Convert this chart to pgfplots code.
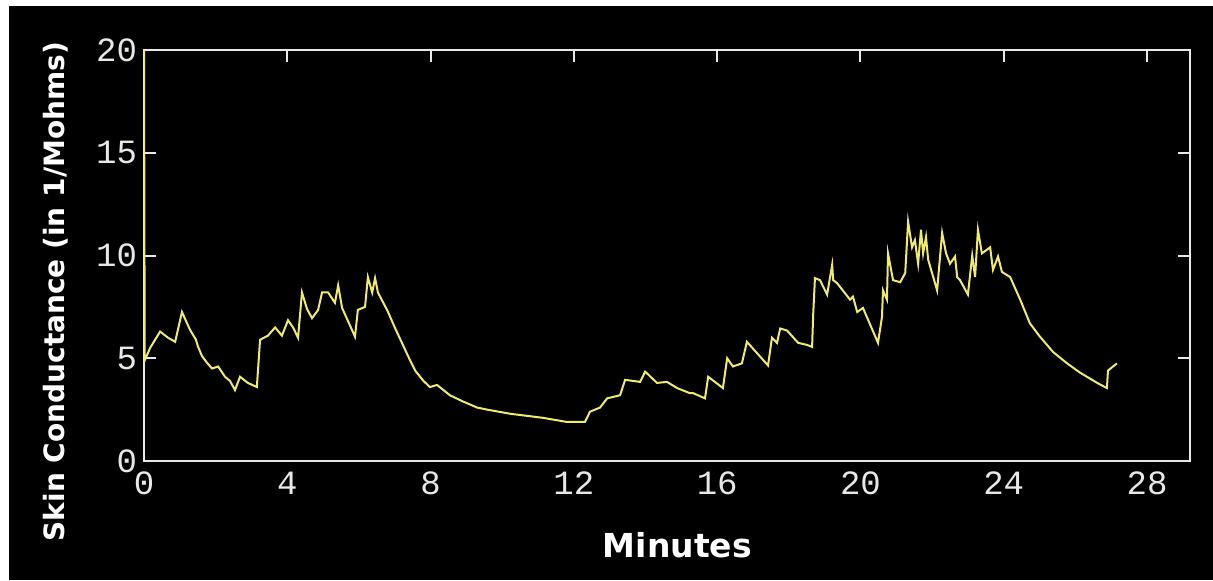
\documentclass[border=0pt]{standalone}
\usepackage{pgfplots}
\pgfplotsset{compat=1.18}
\usepackage{fontspec}
\setmainfont{DejaVu Sans}
\newfontfamily\tickfont{Liberation Mono}
\definecolor{trace}{RGB}{240,236,105}
\definecolor{frame}{RGB}{232,232,232}
\begin{document}
\begin{tikzpicture}
\useasboundingbox (0,0) rectangle (606.5pt,290pt);
\fill[white] (0,0) rectangle (606.5pt,290pt);
\fill[black] (4.5pt,0) rectangle (606.5pt,287pt);
\begin{axis}[
  at={(72pt,59.5pt)}, anchor=south west,
  scale only axis,
  width=523pt, height=205.5pt,
  xmin=0, xmax=29.2,
  ymin=0, ymax=20,
  xtick={0,4,...,28},
  ytick={0,5,...,20},
  xtick pos=upper, xticklabel pos=lower,
  ytick pos=both, yticklabel pos=left,
  tick align=inside,
  major tick length=6pt,
  axis line style={frame, line width=1pt},
  every tick/.style={frame, line width=1pt},
  /pgf/number format/assume math mode=true,
  ticklabel style={text=frame, font=\tickfont\fontsize{17}{17}\selectfont},
  xticklabel style={yshift=-2pt},
  xlabel={Minutes},
  ylabel={Skin Conductance (in 1/Mohms)},
  every axis x label/.style={at={(axis description cs:0.51,-0.204)}, anchor=center,
    text=white, font=\bfseries\fontsize{16.5}{16.5}\selectfont},
  every axis y label/.style={at={(axis description cs:-0.0841,0.412)}, anchor=center, rotate=90,
    text=white, font=\bfseries\fontsize{14}{14}\selectfont},
]
\addplot[trace, line width=1pt] coordinates {
(0,20) (0.02,4.9) (0.17,5.5) (0.45,6.3) (0.67,6.0) (0.87,5.8) (1.06,7.25) (1.28,6.4)
(1.45,5.9) (1.50,5.6) (1.62,5.1) (1.75,4.8) (1.90,4.5) (2.07,4.6) (2.26,4.1) (2.40,3.9)
(2.54,3.45) (2.68,4.1) (2.90,3.8) (3.15,3.6)
(3.24,5.9) (3.46,6.1) (3.66,6.5) (3.85,6.1) (4.02,6.85) (4.16,6.5) (4.30,6.0) (4.41,8.2)
(4.55,7.4) (4.69,6.95) (4.86,7.35) (4.97,8.2) (5.14,8.2) (5.33,7.7) (5.42,8.55) (5.53,7.45)
(5.89,6.05) (5.97,7.35) (6.17,7.5) (6.25,8.95) (6.37,8.2) (6.45,8.9) (6.53,8.2)
(6.80,7.3) (7.00,6.5) (7.20,5.75) (7.40,5.0) (7.57,4.4) (7.80,3.9) (7.98,3.6) (8.18,3.7)
(8.54,3.2) (8.90,2.9) (9.30,2.6) (9.58,2.5) (10.22,2.3)
(11.14,2.1) (11.81,1.9) (12.31,1.9) (12.45,2.4) (12.73,2.6) (12.93,3.05) (13.29,3.2)
(13.43,3.95) (13.85,3.85) (13.99,4.35) (14.32,3.8) (14.60,3.85) (14.88,3.55) (15.24,3.3)
(15.33,3.3) (15.66,3.05) (15.75,4.1) (16.16,3.55) (16.28,5.0) (16.44,4.6) (16.69,4.75)
(16.83,5.8) (17.42,4.65) (17.53,6.0) (17.67,5.75) (17.76,6.45) (17.95,6.35) (18.26,5.75)
(18.51,5.65) (18.65,5.55) (18.68,7.1) (18.73,8.9) (18.87,8.8) (19.07,8.1) (19.21,9.55)
(19.24,8.8) (19.35,8.65) (19.71,7.85) (19.79,8.0) (19.91,7.25) (20.07,7.45) (20.49,5.75)
(20.60,7.0) (20.63,8.3) (20.74,7.85) (20.77,10.1) (20.91,8.8) (21.11,8.7) (21.25,9.15)
(21.33,11.65) (21.44,10.4) (21.52,10.75) (21.61,9.6) (21.69,11.25) (21.75,10.1) (21.83,10.9)
(21.89,9.8) (22.14,8.3) (22.28,11.1) (22.39,10.1) (22.50,9.6) (22.64,9.95) (22.70,8.95)
(22.78,8.8) (23.00,8.1) (23.12,10.0) (23.20,8.95) (23.28,11.25) (23.39,10.1) (23.62,10.4)
(23.70,9.3) (23.84,9.95) (23.95,9.2) (24.18,8.95) (24.46,7.85) (24.73,6.7) (25.01,6.05)
(25.38,5.3) (25.77,4.75) (26.13,4.3) (26.61,3.8) (26.88,3.55) (26.91,4.4) (27.16,4.75)
};
\end{axis}
\end{tikzpicture}
\end{document}
